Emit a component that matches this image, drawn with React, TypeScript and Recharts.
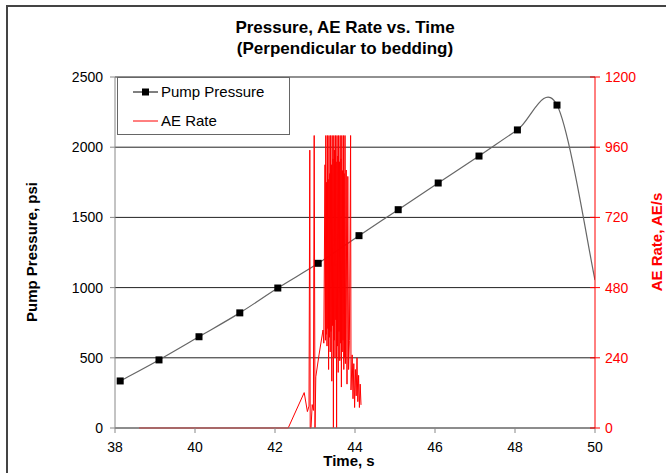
import React from 'react';
import { LineChart, Line, XAxis, YAxis, CartesianGrid, Legend, Customized } from 'recharts';

const FONT = 'Arial, "Liberation Sans", sans-serif';

// Pump pressure readings (psi); the last point closes the curve at the axis edge
const pressureTime = [38.13, 39.1, 40.1, 41.12, 42.07, 43.08, 44.1, 45.08, 46.08, 47.1, 48.06, 49.05, 50];
const pressurePsi = [335, 485, 650, 820, 997, 1173, 1370, 1555, 1745, 1937, 2123, 2300, 1054];

// AE rate readings (AE/s)
const aeTime = [
  38.6, 39.2, 39.8, 40.4, 41.0, 41.6, 42.2, 42.33, 42.73, 42.81, 42.85, 42.87, 42.88, 42.9, 42.93, 42.96,
  42.98, 43.0, 43.02, 43.1, 43.2, 43.22,
  43.25, 43.26, 43.27, 43.28, 43.29, 43.3, 43.31, 43.32, 43.33, 43.34, 43.35, 43.36, 43.37, 43.38, 43.39,
  43.4, 43.41, 43.42, 43.43, 43.44, 43.45, 43.46, 43.47, 43.48, 43.49, 43.5, 43.51, 43.52, 43.53, 43.54,
  43.55, 43.56, 43.57, 43.58, 43.59, 43.6, 43.61, 43.62, 43.63, 43.64, 43.65, 43.66, 43.67, 43.68, 43.69,
  43.7, 43.71, 43.72, 43.73, 43.74, 43.75,
  43.76, 43.78, 43.8, 43.82, 43.84, 43.86, 43.89, 43.9, 43.93, 43.95, 43.97, 43.99, 44.01, 44.03, 44.05,
  44.07, 44.09, 44.11, 44.13, 44.15,
];
const aeRate = [
  0, 0, 0, 0, 0, 0, 0, 0, 121, 56, 75, 950, 0, 0, 80, 60,
  1000, 0, 175, 250, 335, 290,
  900, 300, 1000, 320, 840, 280, 1000, 340, 850, 200, 1000, 310, 870, 260, 1000,
  330, 900, 160, 1000, 350, 920, 0, 1000, 300, 950, 240, 1000, 370, 910, 0,
  1000, 280, 930, 190, 1000, 330, 910, 230, 1000, 290, 920, 140, 1000, 260, 880,
  300, 1000, 200, 870, 240, 1000,
  220, 882, 150, 860, 200, 300, 1000, 130, 250, 100, 220, 70, 200, 110, 240,
  90, 180, 70, 150, 79,
];

const timeTicks = [38, 40, 42, 44, 46, 48, 50];
const pressureTicks = [0, 500, 1000, 1500, 2000, 2500];
const aeTicks = [0, 240, 480, 720, 960, 1200];

const pressureData = pressureTime.map((t, i) => ({ time: t, pressure: pressurePsi[i] }));
const aeData = aeTime.map((t, i) => ({ time: t, ae: aeRate[i] }));

// Excel-style smoothed line (Catmull-Rom through the points, as bezier segments)
const excelSmooth = (context: any) => {
  let pts: [number, number][] = [];
  return {
    areaStart() {},
    areaEnd() {},
    lineStart() {
      pts = [];
    },
    lineEnd() {
      if (!pts.length) return;
      context.moveTo(pts[0][0], pts[0][1]);
      for (let i = 0; i < pts.length - 1; i++) {
        const p0 = pts[Math.max(i - 1, 0)];
        const p1 = pts[i];
        const p2 = pts[i + 1];
        const p3 = pts[Math.min(i + 2, pts.length - 1)];
        context.bezierCurveTo(
          p1[0] + (p2[0] - p0[0]) / 6,
          p1[1] + (p2[1] - p0[1]) / 6,
          p2[0] - (p3[0] - p1[0]) / 6,
          p2[1] - (p3[1] - p1[1]) / 6,
          p2[0],
          p2[1],
        );
      }
    },
    point(x: number, y: number) {
      pts.push([+x, +y]);
    },
  };
};

const SquareDot = (props: any) => {
  const { cx, cy, index } = props;
  if (index === pressurePsi.length - 1 || cx == null || cy == null) return <g key={`pd-${index}`} />;
  return <rect key={`pd-${index}`} x={cx - 3.5} y={cy - 3.5} width={7} height={7} fill="#000" />;
};

const RightTick = (props: any) => {
  const { x, y, payload } = props;
  return (
    <g>
      <line x1={x - 15} x2={x - 5} y1={y} y2={y} stroke="#ff0000" />
      <text x={x} y={y} dy="0.35em" textAnchor="start" fill="#ff0000" fontSize={14} fontFamily={FONT}>
        {payload.value}
      </text>
    </g>
  );
};

const LegendBox = () => (
  <svg width={173} height={58} style={{ display: 'block' }}>
    <rect x={0.5} y={0.5} width={172} height={57} fill="#fff" stroke="#666" />
    <line x1={16} x2={41} y1={15} y2={15} stroke="#000" />
    <rect x={25} y={11.5} width={7} height={7} fill="#000" />
    <text x={44} y={15} dy="0.35em" fontSize={15} fontFamily={FONT} fill="#000">Pump Pressure</text>
    <line x1={16} x2={41} y1={44} y2={44} stroke="#ff0000" />
    <text x={44} y={44} dy="0.35em" fontSize={15} fontFamily={FONT} fill="#000">AE Rate</text>
  </svg>
);

const Titles = () => (
  <g fontFamily={FONT} fontWeight="bold">
    <text x={345} y={27} dy="0.35em" textAnchor="middle" fontSize={17} fill="#000">
      Pressure, AE Rate vs. Time
    </text>
    <text x={345} y={48} dy="0.35em" textAnchor="middle" fontSize={17} fill="#000">
      (Perpendicular to bedding)
    </text>
    <text x={32} y={252} dy="0.35em" textAnchor="middle" fontSize={15} fill="#000" transform="rotate(-90 32 252)">
      Pump Pressure, psi
    </text>
    <text x={657} y={242} dy="0.35em" textAnchor="middle" fontSize={15} fill="#ff0000" transform="rotate(-90 657 242)">
      AE Rate, AE/s
    </text>
    <text x={349} y={461} dy="0.35em" textAnchor="middle" fontSize={15} fill="#000">
      Time, s
    </text>
  </g>
);

export default function App() {
  return (
    <div style={{ position: 'absolute', left: 0, top: 0, width: 666, height: 473, background: '#fff' }}>
      <div
        style={{
          position: 'absolute',
          left: 6,
          top: 5,
          right: 0,
          bottom: 0,
          borderTop: '2px solid #444',
          borderLeft: '2px solid #444',
        }}
      />
      <LineChart width={666} height={473} margin={{ top: 77, right: 21, bottom: 15, left: 55 }}>
        <CartesianGrid yAxisId="left" vertical={false} stroke="#222" />
        <XAxis
          dataKey="time"
          type="number"
          domain={[38, 50]}
          ticks={timeTicks}
          allowDataOverflow
          height={30}
          tickSize={5}
          tickMargin={9}
          axisLine={{ stroke: '#888' }}
          tickLine={{ stroke: '#888' }}
          tick={{ fontSize: 14, fill: '#000', fontFamily: FONT }}
        />
        <YAxis
          yAxisId="left"
          domain={[0, 2500]}
          ticks={pressureTicks}
          width={60}
          tickSize={5}
          tickMargin={7}
          axisLine={{ stroke: '#888' }}
          tickLine={{ stroke: '#888' }}
          tick={{ fontSize: 14, fill: '#000', fontFamily: FONT }}
        />
        <YAxis
          yAxisId="right"
          orientation="right"
          domain={[0, 1200]}
          ticks={aeTicks}
          width={50}
          tickSize={5}
          tickMargin={5}
          axisLine={{ stroke: '#ff0000' }}
          tickLine={false}
          tick={<RightTick />}
        />
        <Legend
          layout="vertical"
          verticalAlign="middle"
          align="center"
          content={<LegendBox />}
          wrapperStyle={{ left: 117, top: 77, width: 173, height: 58 }}
        />
        <Line
          yAxisId="left"
          data={pressureData}
          dataKey="pressure"
          name="Pump Pressure"
          type={excelSmooth as any}
          stroke="#666"
          strokeWidth={1.2}
          dot={SquareDot}
          activeDot={false}
          isAnimationActive={false}
        />
        <Line
          yAxisId="right"
          data={aeData}
          dataKey="ae"
          name="AE Rate"
          type="linear"
          stroke="#ff0000"
          strokeWidth={1}
          dot={false}
          activeDot={false}
          isAnimationActive={false}
        />
        <Customized component={Titles} />
      </LineChart>
    </div>
  );
}
